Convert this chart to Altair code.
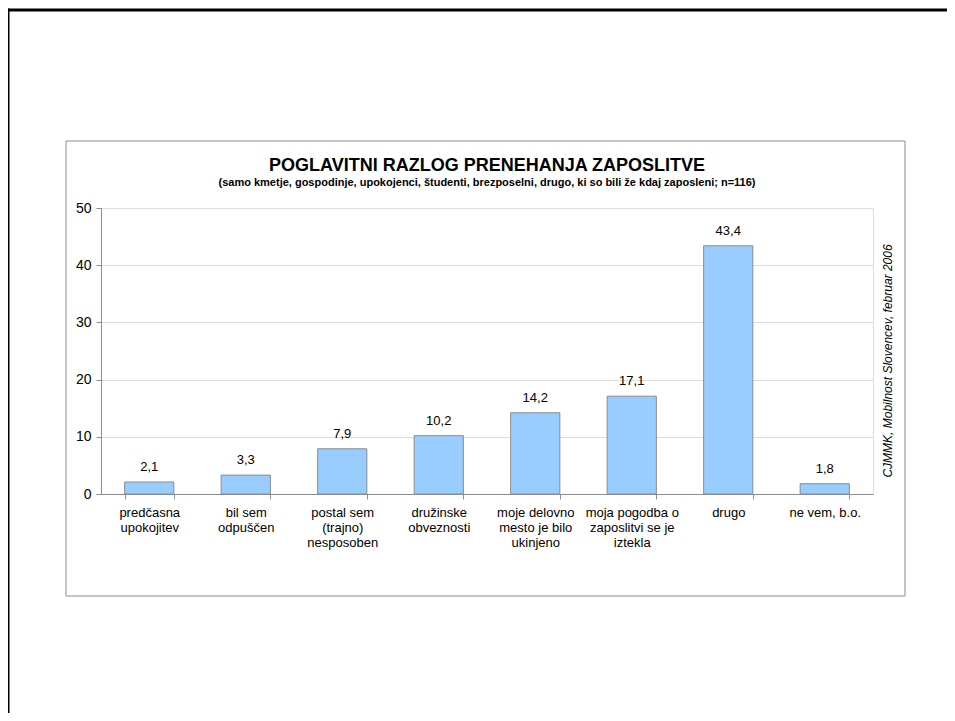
import altair as alt
import pandas as pd

categories = [
    "predčasna\nupokojitev",
    "bil sem\nodpuščen",
    "postal sem\n(trajno)\nnesposoben",
    "družinske\nobveznosti",
    "moje delovno\nmesto je bilo\nukinjeno",
    "moja pogodba o\nzaposlitvi se je\niztekla",
    "drugo",
    "ne vem, b.o.",
]
values = [2.1, 3.3, 7.9, 10.2, 14.2, 17.1, 43.4, 1.8]

title_text = "POGLAVITNI RAZLOG PRENEHANJA ZAPOSLITVE"
subtitle_text = "(samo kmetje, gospodinje, upokojenci, študenti, brezposelni, drugo, ki so bili že kdaj zaposleni; n=116)"
credit_text = "CJMMK, Mobilnost Slovencev, februar 2006"

df = pd.DataFrame({"cat": categories, "value": values})

FONT = "Liberation Sans"

base = alt.Chart(df).transform_calculate(
    lbl="replace(format(datum.value, '.1f'), '.', ',')"
)

x_enc = alt.X(
    "cat:N",
    sort=categories,
    scale=alt.Scale(paddingInner=0.49, paddingOuter=0.245),
    axis=alt.Axis(
        title=None,
        labelAngle=0,
        labelExpr="split(datum.label, '\\n')",
        tickBand="extent",
        domainColor="#8c8c8c",
        tickColor="#8c8c8c",
        tickSize=5,
        labelPadding=7,
        labelFontSize=13,
        labelColor="#000000",
        labelFont=FONT,
        labelLineHeight=15,
        labelBaseline="top",
    ),
)
y_enc = alt.Y(
    "value:Q",
    scale=alt.Scale(domain=[0, 50], nice=False),
    axis=alt.Axis(
        title=None,
        values=[0, 10, 20, 30, 40, 50],
        domainColor="#8c8c8c",
        tickColor="#8c8c8c",
        tickSize=5,
        gridColor="#dcdcdc",
        labelFontSize=14,
        labelColor="#000000",
        labelFont=FONT,
        labelPadding=5,
    ),
)

bars = base.mark_bar(color="#99ccff", stroke="#8c8c8c", strokeWidth=1).encode(
    x=x_enc, y=y_enc
)
labels = base.mark_text(
    baseline="bottom", dy=-8, fontSize=13, font=FONT, color="#000000"
).encode(x=alt.X("cat:N", sort=categories), y="value:Q", text="lbl:N")

one = alt.Data(values=[{"k": 1}])
frame_left = alt.Chart(one).mark_rule(color="#000000", strokeWidth=3).encode(
    x=alt.value(-93), y=alt.value(-199.5), y2=alt.value(600)
)
frame_top = alt.Chart(one).mark_rule(color="#000000", strokeWidth=3).encode(
    x=alt.value(-94.5), x2=alt.value(900), y=alt.value(-198)
)
box = alt.Chart(one).mark_rect(
    fill="transparent", stroke="#8c8c8c", strokeWidth=1
).encode(x=alt.value(-35), x2=alt.value(804), y=alt.value(-67), y2=alt.value(388))
credit = alt.Chart(one).mark_text(
    angle=270, fontSize=12, fontStyle="italic", font=FONT, color="#000000",
    align="center", baseline="middle"
).encode(x=alt.value(787), y=alt.value(153), text=alt.value(credit_text))
title = alt.Chart(one).mark_text(
    fontSize=18, fontWeight="bold", font=FONT, color="#000000",
    align="center", baseline="alphabetic"
).encode(x=alt.value(386), y=alt.value(-37), text=alt.value(title_text))
subtitle = alt.Chart(one).mark_text(
    fontSize=11, fontWeight="bold", font=FONT, color="#000000",
    align="center", baseline="alphabetic"
).encode(x=alt.value(386), y=alt.value(-22), text=alt.value(subtitle_text))

chart = alt.layer(frame_left, frame_top, box, bars, labels, credit, title, subtitle).properties(
    width=772,
    height=286,
    autosize=alt.AutoSizeParams(type="none"),
    padding={"left": 93, "top": 200, "right": 74, "bottom": 219},
).configure_view(stroke="#dcdcdc").configure(background="white")

chart.save("out.html", embed_options={"renderer": "svg", "actions": False})
